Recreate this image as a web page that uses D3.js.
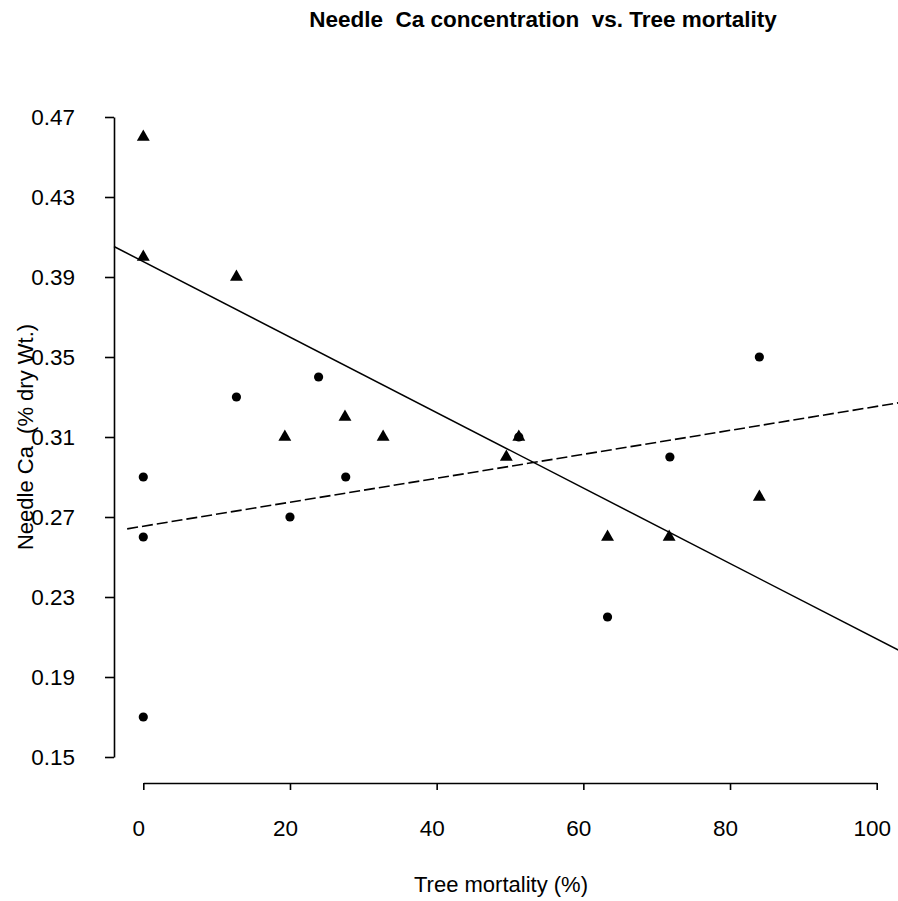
<!DOCTYPE html>
<html>
<head>
<meta charset="utf-8">
<script src="https://cdn.jsdelivr.net/npm/d3@7"></script>
<style>
  html, body { margin: 0; padding: 0; background: #fff; }
  svg { display: block; font-family: "Liberation Sans", Arial, sans-serif; }
</style>
</head>
<body>
<svg id="chart" width="898" height="901"></svg>
<script>
// ---- data ----
const triMortality = [0, 0, 12.7, 19.3, 27.5, 32.7, 49.5, 51.2, 63.3, 71.7, 84.0];
const triCa        = [0.46, 0.40, 0.39, 0.31, 0.32, 0.31, 0.30, 0.31, 0.26, 0.26, 0.28];
const dotMortality = [0, 0, 0, 12.7, 20.0, 23.9, 27.6, 51.2, 63.3, 71.8, 84.0];
const dotCa        = [0.29, 0.26, 0.17, 0.33, 0.27, 0.34, 0.29, 0.31, 0.22, 0.30, 0.35];
// fitted lines: [intercept, slope], drawn over an x range
const solidFit   = [0.3977, -0.001887];
const solidRange = [-4.0, 103.0];
const dashedFit  = [0.2654, 0.000599];
const dashedRange = [-2.2, 103.0];
const xTicks = [0, 20, 40, 60, 80, 100];
const yTicks = [0.15, 0.19, 0.23, 0.27, 0.31, 0.35, 0.39, 0.43, 0.47];

const svg = d3.select("#chart");
const x = d3.scaleLinear().domain([0, 100]).range([143.3, 876.7]);
const y = d3.scaleLinear().domain([0.15, 0.47]).range([757, 117]);

// title
svg.append("text")
  .attr("x", 543).attr("y", 27)
  .attr("text-anchor", "middle")
  .style("font-size", "22.5px").style("font-weight", "bold")
  .style("white-space", "pre")
  .text("Needle  Ca concentration  vs. Tree mortality");

// y axis
const yAxis = svg.append("g")
  .attr("transform", "translate(114,0)")
  .call(d3.axisLeft(y).tickValues(yTicks).tickFormat(d3.format(".2f"))
    .tickSize(9).tickSizeOuter(0).tickPadding(30));
yAxis.select(".domain").attr("stroke", "#000").attr("stroke-width", 1.6);
yAxis.selectAll(".tick line").attr("stroke", "#000").attr("stroke-width", 1.6);
yAxis.selectAll(".tick text").style("font-size", "22.5px").attr("fill", "#000")
  .style("font-family", "Liberation Sans, Arial, sans-serif");

// x axis
const xAxis = svg.append("g")
  .attr("transform", "translate(0,783)")
  .call(d3.axisBottom(x).tickValues(xTicks).tickFormat(d3.format("d"))
    .tickSize(7).tickSizeOuter(0).tickPadding(30));
xAxis.select(".domain").attr("stroke", "#000").attr("stroke-width", 1.6);
xAxis.selectAll(".tick line").attr("stroke", "#000").attr("stroke-width", 1.6);
xAxis.selectAll(".tick text").style("font-size", "22.5px").attr("fill", "#000")
  .attr("dx", -5)
  .style("font-family", "Liberation Sans, Arial, sans-serif");

// axis titles
svg.append("text")
  .attr("x", 501).attr("y", 892)
  .attr("text-anchor", "middle")
  .style("font-size", "22px")
  .text("Tree mortality (%)");

svg.append("text")
  .attr("transform", "translate(33,437) rotate(-90)")
  .attr("text-anchor", "middle")
  .style("font-size", "22px")
  .style("white-space", "pre")
  .text("Needle Ca  (% dry Wt.)");

// fitted lines
const line = d3.line().x(d => x(d[0])).y(d => y(d[1]));
function fitPts(fit, range) {
  return range.map(v => [v, fit[0] + fit[1] * v]);
}
svg.append("path")
  .attr("d", line(fitPts(solidFit, solidRange)))
  .attr("fill", "none").attr("stroke", "#000").attr("stroke-width", 1.5);
svg.append("path")
  .attr("d", line(fitPts(dashedFit, dashedRange)))
  .attr("fill", "none").attr("stroke", "#000").attr("stroke-width", 1.6)
  .attr("stroke-dasharray", "11,4");

// points: dots
svg.append("g").selectAll("circle")
  .data(d3.zip(dotMortality, dotCa))
  .join("circle")
  .attr("cx", d => x(d[0])).attr("cy", d => y(d[1]))
  .attr("r", 4.6).attr("fill", "#000");

// points: triangles
const tri = d3.symbol().type(d3.symbolTriangle).size(72);
svg.append("g").selectAll("path")
  .data(d3.zip(triMortality, triCa))
  .join("path")
  .attr("transform", d => `translate(${x(d[0])},${y(d[1])})`)
  .attr("d", tri).attr("fill", "#000");
</script>
</body>
</html>
